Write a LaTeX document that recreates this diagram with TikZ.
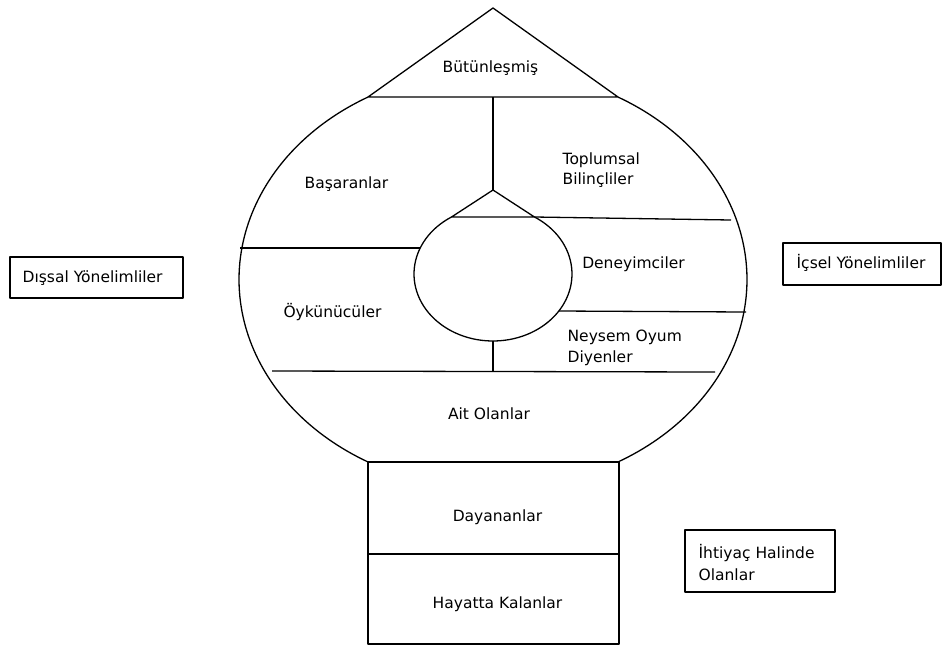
\documentclass[tikz,border=0pt]{standalone}
\usepackage{fontspec}
\setmainfont{DejaVu Sans}
\begin{document}
\begin{tikzpicture}[x=1pt,y=-1pt,line width=1.3pt,line join=round,
  lbl/.style={font=\fontsize{15.5}{20}\selectfont,inner sep=0pt},
  lbll/.style={lbl,align=left},
  tagbox/.style={draw,line width=2.6pt}]
\useasboundingbox (0,0) rectangle (943,649);
% key points
\coordinate (apex) at (493,8);
\coordinate (tl) at (368,97);
\coordinate (tr) at (618,97);
\coordinate (tm) at (493,97);
\coordinate (bl) at (368,462);
\coordinate (br) at (619,462);
\coordinate (rb) at (368,644);
\coordinate (rr) at (619,644);
\coordinate (ml) at (368,554);
\coordinate (mr) at (619,554);
\coordinate (iapex) at (493,190);
\coordinate (itl) at (451.5,217);
\coordinate (itr) at (534.5,217);
\coordinate (ibot) at (493,341);
% top triangle
\draw (tl) -- (apex) -- (tr) -- cycle;
% outer onion outline
\draw plot[domain=119.5:240.5,samples=90] ({493+254*cos(\x)},{279.5+209.6*sin(\x)});
\draw plot[domain=-60.5:60.5,samples=90] ({493+254*cos(\x)},{279.5+209.6*sin(\x)});
% bottom box
\draw (bl) -- (br) -- (rr) -- (rb) -- cycle;
\draw (ml) -- (mr);
% inner drop
\draw (itl) -- (iapex) -- (itr) -- cycle;
\draw plot[domain=-58.3:238.3,samples=90] ({493+79*cos(\x)},{274+67*sin(\x)});
% dividers
\draw (tm) -- (iapex);
\draw (ibot) -- (493,371);
\draw (240,248) -- (420,248);
\draw (itr) -- (731,220);
\draw (559,311) -- (746,312);
\draw (272,371) -- (715,372);
% labels
\node[lbl,anchor=base] (but) at (490.5,72) {Bütünleşmiş};
\node[lbl,anchor=base] (bas) at (346.5,188) {Başaranlar};
\node[lbll,anchor=base west] (top) at (562,184) {Toplumsal\\Bilinçliler};
\node[lbl,anchor=base] (den) at (633.5,268) {Deneyimciler};
\node[lbl,anchor=base] (oyk) at (332.5,317) {Öykünücüler};
\node[lbll,anchor=base west,font=\fontsize{15.5}{21}\selectfont] (ney) at (567,362) {Neysem Oyum\\Diyenler};
\node[lbl,anchor=base] (ait) at (489,419) {Ait Olanlar};
\node[lbl,anchor=base] (day) at (497.5,521) {Dayananlar};
\node[lbl,anchor=base] (hay) at (497.5,608) {Hayatta Kalanlar};
% side boxes
\draw[tagbox] (10,257) rectangle (183,298);
\node[lbl,anchor=base west] (dis) at (22,282) {Dışsal Yönelimliler};
\draw[tagbox] (783,243) rectangle (941,285);
\node[lbl,anchor=base west] (ics) at (796,268) {İçsel Yönelimliler};
\draw[tagbox] (685,530) rectangle (835,592);
\node[lbll,anchor=base west,font=\fontsize{15.5}{22}\selectfont] (iht) at (698,580) {İhtiyaç Halinde\\Olanlar};
\end{tikzpicture}
\end{document}
